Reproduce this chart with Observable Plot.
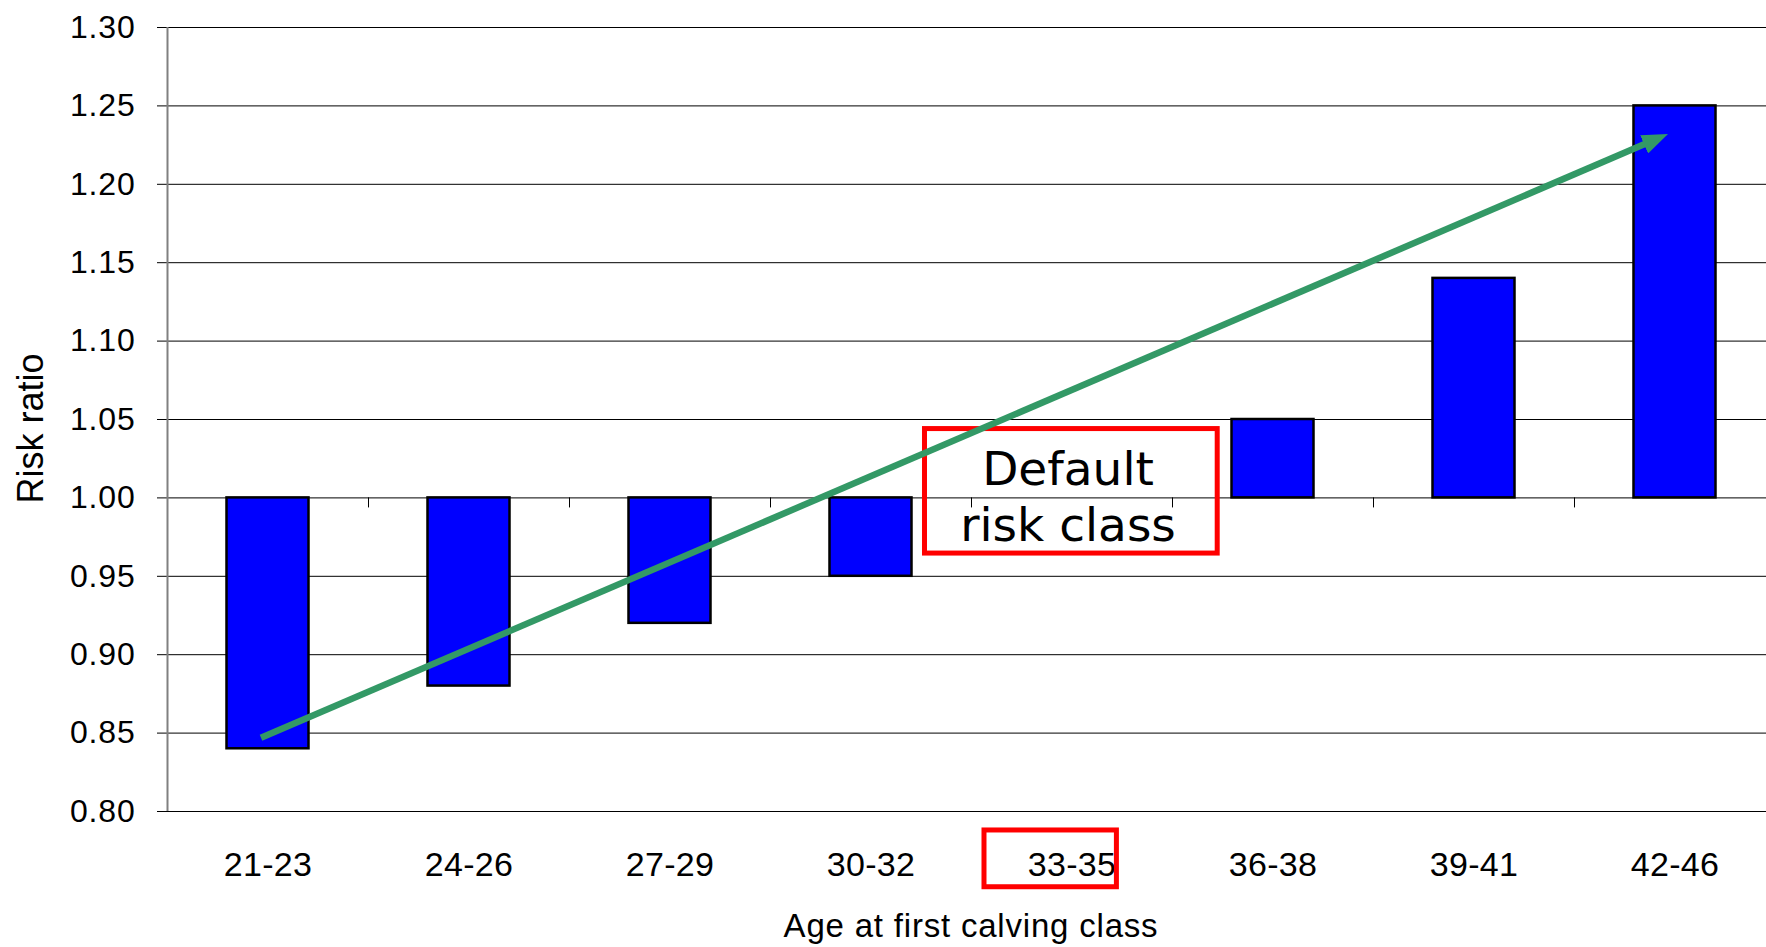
<!DOCTYPE html>
<html>
<head>
<meta charset="utf-8">
<script src="https://cdn.jsdelivr.net/npm/d3@7"></script>
<script src="https://cdn.jsdelivr.net/npm/@observablehq/plot@0.6"></script>
<style>
  html, body { margin: 0; padding: 0; background: #fff; }
</style>
</head>
<body>
<script>
// ---- Data ----
const categories = ["21-23", "24-26", "27-29", "30-32", "33-35", "36-38", "39-41", "42-46"];
const riskRatio = [0.84, 0.88, 0.92, 0.95, 1.00, 1.05, 1.14, 1.25];
const yTicks = [0.80, 0.85, 0.90, 0.95, 1.00, 1.05, 1.10, 1.15, 1.20, 1.25, 1.30];
const baseline = 1.00;
const defaultClass = "33-35";
const defaultLabel = "Default\nrisk class";
const trendStart = {cat: "21-23", value: 0.847};
const trendEnd = {cat: "42-46", value: 1.232};
const xTitle = "Age at first calving class";
const yTitle = "Risk ratio";

// ---- Layout ----
const W = 1766, H = 947;
const mL = 167, mR = 0, mT = 27, mB = 136;
const step = 201;                       // category spacing (plot area runs slightly past the right edge)
const halfStep = step / 2;

const bars = categories.map((c, i) => ({cat: c, value: riskRatio[i]})).filter(d => d.value !== baseline);
const trend = [{x1: trendStart.cat, y1: trendStart.value, x2: trendEnd.cat, y2: trendEnd.value}];

const chart = Plot.plot({
  width: W, height: H,
  marginLeft: mL, marginRight: mR, marginTop: mT, marginBottom: mB,
  style: {fontFamily: "'Liberation Sans', Arial, sans-serif", background: "#fff", color: "#000", overflow: "visible"},
  x: {domain: categories, range: [mL, mL + step * categories.length], paddingInner: 0.592, paddingOuter: 0.296, round: false},
  y: {domain: [0.80, 1.30]},
  marks: [
    Plot.ruleY(yTicks, {stroke: "#000", strokeWidth: 1}),
    Plot.axisY({ticks: yTicks, tickSize: 10, tickPadding: 22, tickFormat: d3.format(".2f"), fontSize: 32, stroke: "#000", label: null}),
    Plot.axisX({tickSize: 0, tickPadding: 40, fontSize: 34, label: null}),
    Plot.ruleX(categories.slice(0, 1), {dx: -halfStep, stroke: "#808080", strokeWidth: 2}),
    Plot.ruleX(categories.slice(1), {dx: -halfStep, y1: baseline, y2: baseline - 0.0064, stroke: "#000", strokeWidth: 1}),
    Plot.barY(bars, {x: "cat", y1: baseline, y2: "value", fill: "#0000FF", stroke: "#000", strokeWidth: 2.5}),
    Plot.barY([{cat: defaultClass}], {x: "cat", y1: 0.9645, y2: 1.0439, fill: "none", stroke: "#FF0000", strokeWidth: 5, insetLeft: -106, insetRight: -104.7}),
    Plot.text([{cat: defaultClass}], {x: "cat", y: 1.0015, dx: -4, text: () => defaultLabel, fontSize: 47, fontFamily: "'DejaVu Sans', Verdana, sans-serif", lineHeight: 1.19, textAnchor: "middle", fill: "#000"}),
    Plot.barY([{cat: defaultClass}], {x: "cat", y1: 0.7517, y2: 0.7879, fill: "none", stroke: "#FF0000", strokeWidth: 5, insetLeft: -46.5, insetRight: -3.9}),
    Plot.link(trend, {x1: "x1", y1: "y1", x2: "x2", y2: "y2", dx: -7, stroke: "#339966", strokeWidth: 6.5, strokeLinecap: "butt"}),
    Plot.text([xTitle], {frameAnchor: "bottom", text: d => d, dy: 125, dx: 4, fontSize: 33, lineAnchor: "bottom", textAnchor: "middle", fill: "#000"}),
    Plot.text([yTitle], {frameAnchor: "left", text: d => d, dx: -125, dy: 9, rotate: -90, fontSize: 36, lineAnchor: "bottom", textAnchor: "middle", fill: "#000"})
  ]
});

document.body.append(chart);

// ---- Post styling: arrow head & letter spacing ----
const svg = d3.select(chart);
const defs = svg.insert("defs", ":first-child");
defs.append("marker")
  .attr("id", "trendHead")
  .attr("viewBox", "0 0 10 10")
  .attr("refX", 10).attr("refY", 5)
  .attr("markerWidth", 26).attr("markerHeight", 20)
  .attr("markerUnits", "userSpaceOnUse")
  .attr("preserveAspectRatio", "none")
  .attr("orient", "auto")
  .append("path").attr("d", "M0,0L10,5L0,10Z").attr("fill", "#339966").attr("stroke", "none");

const linkPath = svg.select('g[aria-label="link"] path');
if (!linkPath.empty()) {
  const L = linkPath.node().getTotalLength();
  linkPath.attr("stroke-dasharray", `${L - 12} ${L}`).attr("marker-end", "url(#trendHead)");
}
svg.selectAll("text").filter(function() { return this.textContent === xTitle; }).attr("letter-spacing", "0.8px");
svg.selectAll('g[aria-label="y-axis tick label"] text').attr("letter-spacing", "0.8px");
svg.selectAll('g[aria-label="x-axis tick label"] text').attr("letter-spacing", "0.3px");
</script>
</body>
</html>
